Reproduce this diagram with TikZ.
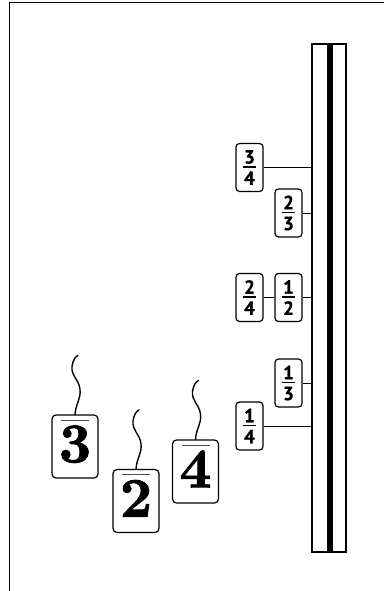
\documentclass[tikz,border=0pt]{standalone}
\usepackage{fontspec}
\newfontfamily\fracfont{PT Sans Bold}[FakeBold=0.8]
\newfontfamily\tagfont{lmroman10-bold}[Extension=.otf, FakeBold=1.6]
\usetikzlibrary{positioning}
\newcommand{\fracstack}[2]{\vbox{\hbox to 13pt{\hss#1\hss}\kern2.5pt\hrule height 1.6pt\kern3.5pt\hbox to 13pt{\hss#2\hss}}}
\begin{document}
\begin{tikzpicture}[
  x=1pt, y=-1pt,
  fraccard/.style = {draw, line width=1.2pt, rounded corners=3.5pt, fill=white,
    minimum width=27pt, minimum height=48pt, inner sep=0pt,
    font=\fracfont\fontsize{19}{19}\selectfont},
  tagcard/.style = {draw, line width=1.2pt, rounded corners=4pt, fill=white,
    minimum width=46pt, minimum height=63pt, inner sep=0pt},
  tagdigit/.style = {inner sep=0pt, font=\tagfont\fontsize{56}{56}\selectfont},
  tagbar/.style = {line width=1pt, black!70},
  tagstring/.style = {line width=1.4pt, line cap=round},
  link/.style = {line width=1pt}
]
  \useasboundingbox (0,0) rectangle (384,591);
  % frame
  \draw[line width=1.5pt] (9.5,591) -- (9.5,2.5) -- (384,2.5);
  % number line rod
  \node[draw, line width=1.2pt, minimum width=34pt, minimum height=508pt, inner sep=0pt] (rod) at (329,298) {};
  \fill ([xshift=-2pt]rod.north) rectangle ([xshift=4pt]rod.south);
  % fraction cards
  \node[fraccard] (f34) at (249.5,167.5) {\fracstack{3}{4}};
  \node[fraccard] (f23) at (288.5,213) {\fracstack{2}{3}};
  \node[fraccard] (f24) at (249.5,297.5) {\fracstack{2}{4}};
  \node[fraccard] (f12) at (288.5,297.5) {\fracstack{1}{2}};
  \node[fraccard] (f13) at (288.5,383) {\fracstack{1}{3}};
  \node[fraccard] (f14) at (249.5,426) {\fracstack{1}{4}};
  % links to the rod
  \draw[link] (f34.east) -- (f34.east -| rod.west);
  \draw[link] (f23.east) -- (f23.east -| rod.west);
  \draw[link] (f24.east) -- (f12.west);
  \draw[link] (f12.east) -- (f12.east -| rod.west);
  \draw[link] (f13.east) -- (f13.east -| rod.west);
  \draw[link] (f14.east) -- (f14.east -| rod.west);
  % hanging tags
  \foreach \name/\digit/\pos in {t3/3/{(75,446.5)}, t2/2/{(136,501)}, t4/4/{(195.5,471.5)}} {
    \node[tagcard] (\name) at \pos {};
    \node[tagdigit, below=11pt of \name.north] (\name d) {\digit};
    \draw[tagbar] ([xshift=-14pt,yshift=-6pt]\name.north) -- ([xshift=14pt,yshift=-6pt]\name.north);
    \draw[tagstring, shift={(\name.north)}] (0,0) .. controls (1,-12) and (6,-15) .. (5,-25)
      .. controls (4,-35) and (-4,-38) .. (-3,-48) .. controls (-2,-55) and (1,-58) .. (3,-59);
  }
\end{tikzpicture}
\end{document}
